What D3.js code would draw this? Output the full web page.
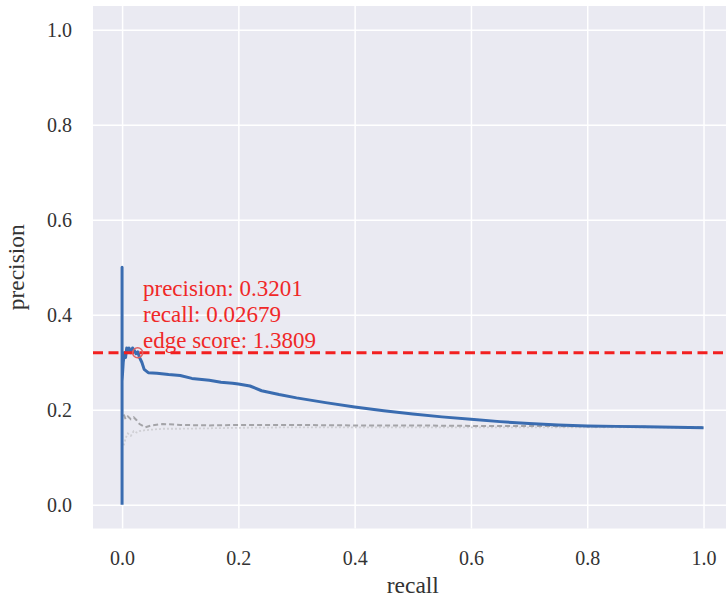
<!DOCTYPE html>
<html>
<head>
<meta charset="utf-8">
<script src="https://cdn.jsdelivr.net/npm/d3@7"></script>
<style>
  body { margin: 0; background: #fff; }
  text { font-family: "Liberation Serif", "Times New Roman", serif; }
</style>
</head>
<body>
<svg id="pr_chart"></svg>
<script>
// model curve
const modelRecall = [0, 0, 0, 0.002, 0.004, 0.006, 0.008, 0.010, 0.012, 0.015, 0.018, 0.021, 0.024, 0.027, 0.030, 0.034, 0.038, 0.045, 0.06, 0.08, 0.10, 0.12, 0.15, 0.17, 0.19, 0.20, 0.22, 0.24, 0.27, 0.30, 0.35, 0.40, 0.45, 0.50, 0.55, 0.60, 0.65, 0.70, 0.75, 0.80, 0.85, 0.90, 0.95, 1.00]
const modelPrecision = [0, 0.5, 0.26, 0.30, 0.32, 0.31, 0.33, 0.325, 0.33, 0.32, 0.33, 0.325, 0.318, 0.322, 0.31, 0.30, 0.285, 0.278, 0.277, 0.274, 0.272, 0.266, 0.262, 0.258, 0.256, 0.254, 0.25, 0.24, 0.232, 0.225, 0.215, 0.206, 0.198, 0.191, 0.185, 0.180, 0.175, 0.171, 0.168, 0.166, 0.165, 0.164, 0.163, 0.162]

// baseline curves (grey)
const baseRecall = [0.003, 0.006, 0.010, 0.015, 0.020, 0.025, 0.030, 0.040, 0.050, 0.070, 0.10, 0.15, 0.20, 0.30, 0.40, 0.50, 0.60, 0.70, 0.80, 0.90, 1.00]
const baseDarkPrecision = [0.19, 0.18, 0.186, 0.18, 0.184, 0.178, 0.170, 0.163, 0.167, 0.170, 0.168, 0.167, 0.168, 0.168, 0.167, 0.167, 0.166, 0.166, 0.165, 0.164, 0.163]
const baseLightPrecision = [0.125, 0.14, 0.15, 0.145, 0.155, 0.152, 0.155, 0.157, 0.158, 0.160, 0.160, 0.161, 0.162, 0.163, 0.163, 0.163, 0.163, 0.163, 0.163, 0.163, 0.162]

// best point
const bestPrecision = 0.3201
const bestRecall = 0.02679
const bestEdgeScore = 1.3809

const xTicks = [0, 0.2, 0.4, 0.6, 0.8, 1.0]
const yTicks = [0, 0.2, 0.4, 0.6, 0.8, 1.0]

let W = 726, H = 598
let m = {top: 6, left: 93, right: 732.6, bottom: 528.5}

let svg = d3.select('#pr_chart').attr('width', W).attr('height', H)

let xScale = d3.scaleLinear().domain([-0.05, 1.05]).range([m.left, m.right])
let yScale = d3.scaleLinear().domain([-0.05, 1.05]).range([m.bottom, m.top])

// plot background
svg.append('rect')
    .attr('x', m.left).attr('y', m.top)
    .attr('width', m.right - m.left).attr('height', m.bottom - m.top)
    .attr('fill', '#eaeaf2')

// x axis (grid + labels)
let xAxis = d3.axisBottom(xScale).tickValues(xTicks).tickFormat(d3.format('.1f'))
    .tickSize(-(m.bottom - m.top)).tickPadding(22)
svg.append('g')
    .attr('transform', `translate(0, ${m.bottom})`)
    .call(xAxis)
    .call(g => g.select('.domain').remove())
    .call(g => g.selectAll('.tick line').attr('stroke', '#fff').attr('stroke-width', 1.5))
    .call(g => g.selectAll('.tick text').attr('fill', '#333').style('font-size', '20px'))

// y axis (grid + labels)
let yAxis = d3.axisLeft(yScale).tickValues(yTicks).tickFormat(d3.format('.1f'))
    .tickSize(-(m.right - m.left)).tickPadding(21)
svg.append('g')
    .attr('transform', `translate(${m.left}, 0)`)
    .call(yAxis)
    .call(g => g.select('.domain').remove())
    .call(g => g.selectAll('.tick line').attr('stroke', '#fff').attr('stroke-width', 1.5))
    .call(g => g.selectAll('.tick text').attr('fill', '#333').style('font-size', '20px'))

// axis labels
svg.append('text')
    .text('recall')
    .attr('x', (m.left + m.right) / 2).attr('y', 593)
    .attr('text-anchor', 'middle')
    .attr('fill', '#333')
    .style('font-size', '23.5px')

svg.append('text')
    .text('precision')
    .attr('transform', `translate(24, ${(m.top + m.bottom) / 2}) rotate(-90)`)
    .attr('text-anchor', 'middle')
    .attr('fill', '#333')
    .style('font-size', '23.5px')

let line = d3.line().x(d => xScale(d[0])).y(d => yScale(d[1]))

// grey baselines
svg.append('path')
    .datum(d3.zip(baseRecall, baseLightPrecision))
    .attr('d', line)
    .attr('fill', 'none')
    .attr('stroke', '#cfcfd4')
    .attr('stroke-width', 1.8)
    .attr('stroke-dasharray', '2,2')

svg.append('path')
    .datum(d3.zip(baseRecall, baseDarkPrecision))
    .attr('d', line)
    .attr('fill', 'none')
    .attr('stroke', '#a4a4a8')
    .attr('stroke-width', 2)
    .attr('stroke-dasharray', '5,3')

// model curve
svg.append('path')
    .datum(d3.zip(modelRecall, modelPrecision))
    .attr('d', line)
    .attr('fill', 'none')
    .attr('stroke', '#3a6cb0')
    .attr('stroke-width', 3)
    .attr('stroke-linejoin', 'round')

// best precision line
svg.append('line')
    .attr('x1', m.left).attr('x2', W)
    .attr('y1', yScale(bestPrecision)).attr('y2', yScale(bestPrecision))
    .attr('stroke', '#f22020')
    .attr('stroke-width', 3)
    .attr('stroke-dasharray', '10,5.5')

svg.append('circle')
    .attr('cx', xScale(bestRecall)).attr('cy', yScale(bestPrecision))
    .attr('r', 5)
    .attr('fill', 'none')
    .attr('stroke', '#e06060')
    .attr('stroke-width', 1.5)

// annotation
let notes = [`precision: ${bestPrecision}`, `recall: ${bestRecall}`, `edge score: ${bestEdgeScore}`]
svg.append('g').selectAll('text')
    .data(notes)
    .enter().append('text')
    .text(d => d)
    .attr('x', 143)
    .attr('y', (d, i) => 296 + i * 26)
    .attr('fill', '#f02828')
    .style('font-size', '23px')
</script>
</body>
</html>
